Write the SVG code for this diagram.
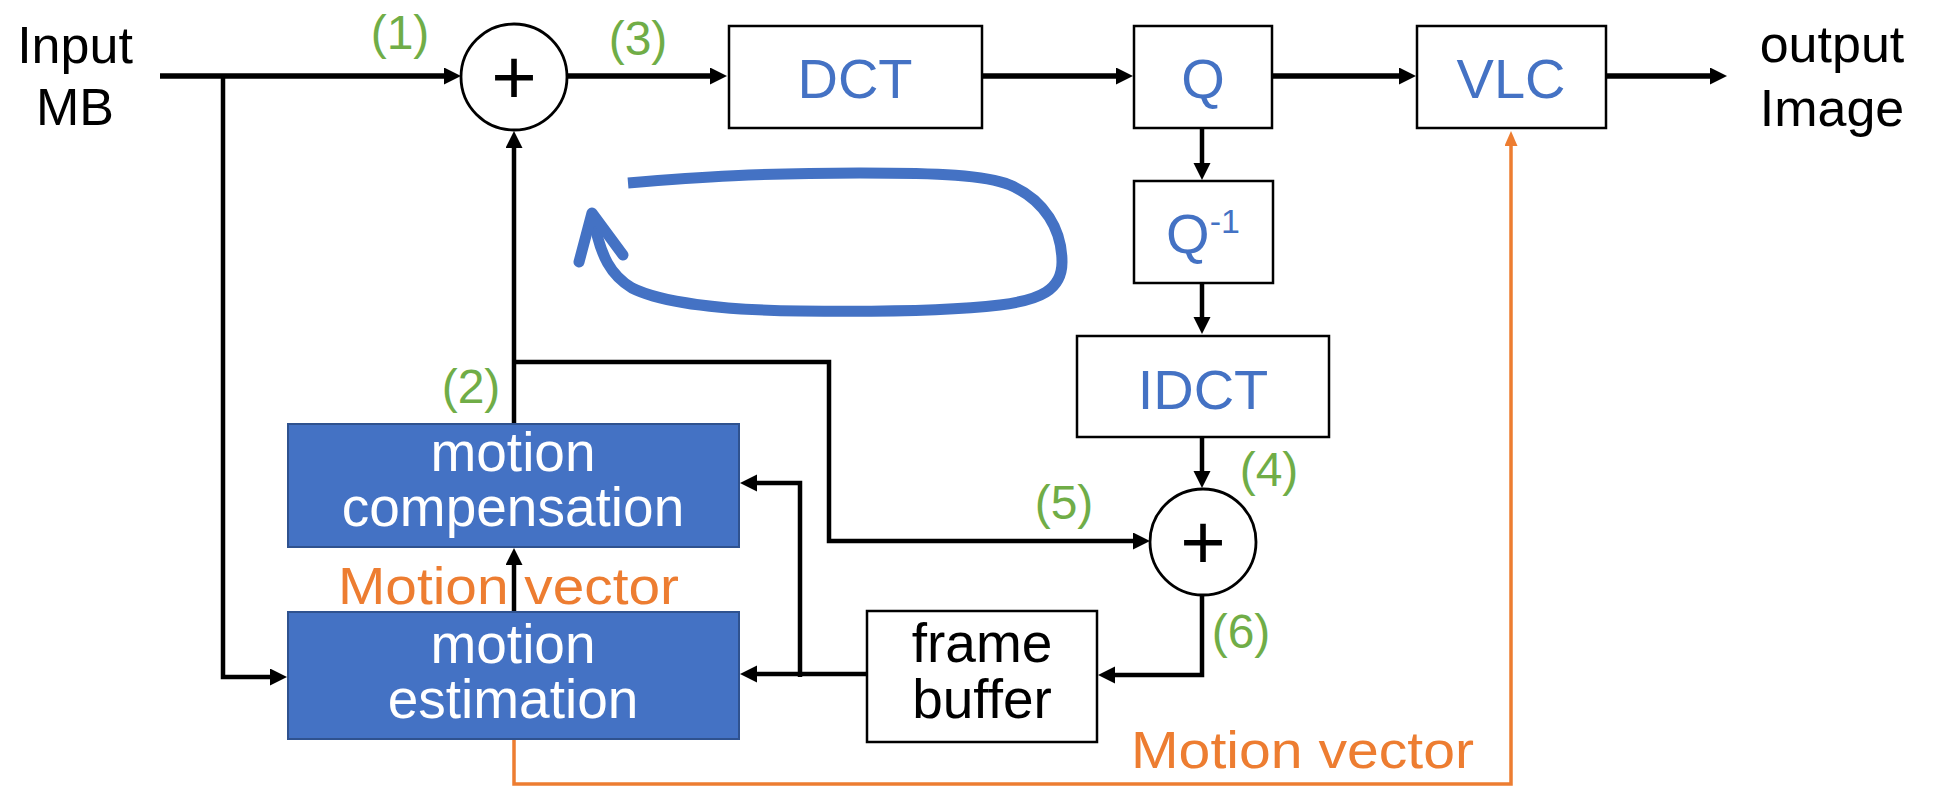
<svg xmlns="http://www.w3.org/2000/svg" width="1934" height="787" viewBox="0 0 1934 787">
  <style>
    .lbl { font-family: "Liberation Sans", Arial, sans-serif; fill: #000; }
    .blk { font-family: "Liberation Sans", Arial, sans-serif; fill: #4472C4; font-size: 56px; text-anchor: middle; }
    .wht { font-family: "Liberation Sans", Arial, sans-serif; fill: #fff; font-size: 55px; text-anchor: middle; }
    .num { font-family: "Liberation Sans", Arial, sans-serif; fill: #70AD47; font-size: 48px; text-anchor: middle; }
    .mv  { font-family: "Liberation Sans", Arial, sans-serif; fill: #ED7D31; font-size: 52px; }
    .box { fill: #fff; stroke: #000; stroke-width: 2.5; }
    .sbox { fill: #4472C4; stroke: #2F528F; stroke-width: 2; }
    .sum { fill: #fff; stroke: #000; stroke-width: 2.8; }
    .wire { fill: none; stroke: #000; stroke-width: 4.5; }
    .main { stroke-width: 5.5; }
    .vec { fill: none; stroke: #ED7D31; stroke-width: 3.5; }
  </style>
  <defs>
    <marker id="ah" markerUnits="userSpaceOnUse" markerWidth="18" markerHeight="18" refX="7" refY="8.5" orient="auto">
      <path d="M0 0 L17 8.5 L0 17 z" fill="#000"/>
    </marker>
    <marker id="ahOrange" markerUnits="userSpaceOnUse" markerWidth="16" markerHeight="16" refX="5" refY="6.5" orient="auto">
      <path d="M0 0 L15 6.5 L0 13 z" fill="#ED7D31"/>
    </marker>
  </defs>

  <rect width="1934" height="787" fill="#fff"/>

  <!-- input / output labels -->
  <g id="input">
    <text class="lbl" x="75" y="63" font-size="52" text-anchor="middle">Input</text>
    <text class="lbl" x="75" y="125" font-size="52" text-anchor="middle">MB</text>
  </g>
  <g id="output">
    <text class="lbl" x="1832" y="62" font-size="52" text-anchor="middle">output</text>
    <text class="lbl" x="1832" y="126" font-size="52" text-anchor="middle">Image</text>
  </g>

  <!-- connectors -->
  <g id="connectors">
    <path class="wire main" d="M160 76 H451" marker-end="url(#ah)"/>
    <path class="wire main" d="M567 76 H717" marker-end="url(#ah)"/>
    <path class="wire main" d="M982 76 H1123" marker-end="url(#ah)"/>
    <path class="wire main" d="M1272 76 H1406" marker-end="url(#ah)"/>
    <path class="wire main" d="M1606 76 H1717" marker-end="url(#ah)"/>
    <path class="wire" d="M223 76 V677 H277" marker-end="url(#ah)"/>
    <path class="wire" d="M1202 128 V170" marker-end="url(#ah)"/>
    <path class="wire" d="M1202 283 V324" marker-end="url(#ah)"/>
    <path class="wire" d="M1202 437 V478" marker-end="url(#ah)"/>
    <path class="wire" d="M1202 596 V675 H1108" marker-end="url(#ah)"/>
    <path class="wire" d="M866 674 H750" marker-end="url(#ah)" stroke-width="6.5"/>
    <path class="wire" d="M800 677 V483 H750" marker-end="url(#ah)"/>
    <path class="wire" d="M514 424 V141" marker-end="url(#ah)"/>
    <path class="wire" d="M514 362 H829 V541 H1140" marker-end="url(#ah)"/>
    <path class="wire" d="M514 612 V558" marker-end="url(#ah)"/>
    <path class="vec" d="M514 739 V784 H1511 V141" marker-end="url(#ahOrange)"/>
  </g>

  <!-- summing junctions -->
  <g id="sum1">
    <circle class="sum" cx="514" cy="77" r="53"/>
    <text class="lbl" x="514" y="104" font-size="78" text-anchor="middle">+</text>
  </g>
  <g id="sum2">
    <circle class="sum" cx="1203" cy="542" r="53"/>
    <text class="lbl" x="1203" y="569" font-size="78" text-anchor="middle">+</text>
  </g>

  <!-- transform / coding blocks -->
  <g id="dct">
    <rect class="box" x="729" y="26" width="253" height="102"/>
    <text class="blk" x="855" y="98">DCT</text>
  </g>
  <g id="q">
    <rect class="box" x="1134" y="26" width="138" height="102"/>
    <text class="blk" x="1203" y="98">Q</text>
  </g>
  <g id="vlc">
    <rect class="box" x="1417" y="26" width="189" height="102"/>
    <text class="blk" x="1511" y="98">VLC</text>
  </g>
  <g id="iq">
    <rect class="box" x="1134" y="181" width="139" height="102"/>
    <text class="blk" x="1203" y="253">Q<tspan font-size="34" dy="-20">-1</tspan></text>
  </g>
  <g id="idct">
    <rect class="box" x="1077" y="336" width="252" height="101"/>
    <text class="blk" x="1203" y="409" font-size="57">IDCT</text>
  </g>
  <g id="frame-buffer">
    <rect class="box" x="867" y="611" width="230" height="131"/>
    <text class="lbl" x="982" y="662" font-size="55" text-anchor="middle">frame</text>
    <text class="lbl" x="982" y="718" font-size="55" text-anchor="middle">buffer</text>
  </g>

  <!-- motion blocks -->
  <g id="motion-compensation">
    <rect class="sbox" x="288" y="424" width="451" height="123"/>
    <text class="wht" x="513" y="471">motion</text>
    <text class="wht" x="513" y="526" font-size="55">compensation</text>
  </g>
  <g id="motion-estimation">
    <rect class="sbox" x="288" y="612" width="451" height="127"/>
    <text class="wht" x="513" y="663">motion</text>
    <text class="wht" x="513" y="718" font-size="55">estimation</text>
  </g>

  <!-- step numbers -->
  <g id="steps">
    <text class="num" x="400" y="49">(1)</text>
    <text class="num" x="471" y="403">(2)</text>
    <text class="num" x="638" y="55">(3)</text>
    <text class="num" x="1269" y="486">(4)</text>
    <text class="num" x="1064" y="519">(5)</text>
    <text class="num" x="1241" y="648">(6)</text>
  </g>

  <!-- motion vector labels -->
  <g id="mv-labels">
    <text class="mv" x="338" y="604" textLength="341" lengthAdjust="spacingAndGlyphs">Motion vector</text>
    <text class="mv" x="1131" y="768" textLength="343" lengthAdjust="spacingAndGlyphs">Motion vector</text>
  </g>

  <!-- loop annotation -->
  <g id="loop" fill="none" stroke="#4472C4" stroke-width="11" stroke-linecap="round" stroke-linejoin="round">
    <path d="M628 183 C700 177 760 173 860 173 C940 173 985 175 1010 185 C1045 200 1062 230 1062 262 C1062 290 1040 300 1000 305 C950 311 880 312 800 311 C720 310 660 302 632 288 C612 276 600 258 593 215" stroke-linecap="butt"/>
    <path d="M579 262 L592 213 L623 255"/>
  </g>
</svg>
